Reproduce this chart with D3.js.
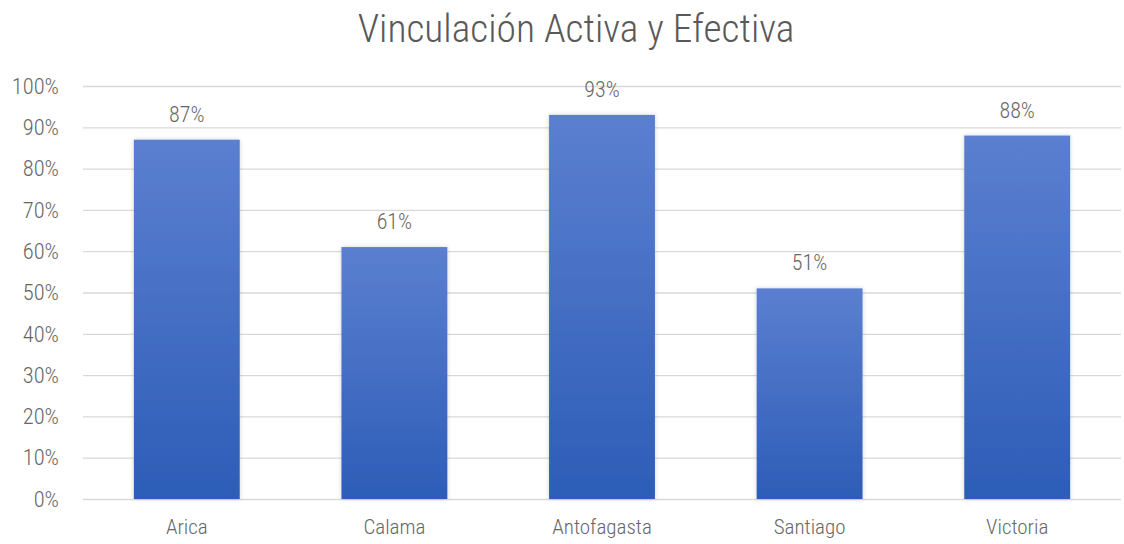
<!DOCTYPE html>
<html>
<head>
<meta charset="utf-8">
<script src="https://cdn.jsdelivr.net/npm/d3@7"></script>
<style>
  body { margin: 0; background: #fff; }
  text { font-family: "Liberation Sans Narrow", "Roboto Condensed", "Arial Narrow", sans-serif; font-weight: 300; }
</style>
</head>
<body>
<svg id="chart" width="1124" height="544"></svg>
<script>
const sedes = ["Arica", "Calama", "Antofagasta", "Santiago", "Victoria"];
const valores = [0.87, 0.61, 0.93, 0.51, 0.88];
const ticks = [0, 0.1, 0.2, 0.3, 0.4, 0.5, 0.6, 0.7, 0.8, 0.9, 1.0];

const svg = d3.select("#chart");
const margin = { left: 83, right: 3, top: 86, bottom: 45 };
const width = 1124, height = 544;

const x = d3.scaleBand()
  .domain(sedes)
  .range([margin.left, width - margin.right])
  .paddingInner(0.49)
  .paddingOuter(0.245);

const y = d3.scaleLinear()
  .domain([0, 1])
  .range([height - margin.bottom, margin.top]);

// gradiente de las barras
const defs = svg.append("defs");
const grad = defs.append("linearGradient")
  .attr("id", "barGrad")
  .attr("x1", 0).attr("y1", 0).attr("x2", 0).attr("y2", 1);
grad.append("stop").attr("offset", "0%").attr("stop-color", "#5b7fd0");
grad.append("stop").attr("offset", "100%").attr("stop-color", "#2d5db7");

const shadow = defs.append("filter").attr("id", "shadow")
  .attr("x", "-10%").attr("y", "-10%").attr("width", "120%").attr("height", "120%");
shadow.append("feDropShadow")
  .attr("dx", 0).attr("dy", 0).attr("stdDeviation", 2)
  .attr("flood-color", "#000").attr("flood-opacity", 0.18);

// título
svg.append("text")
  .attr("x", 576)
  .attr("y", 42)
  .attr("text-anchor", "middle")
  .attr("fill", "#595959")
  .style("font-size", "39.5px")
  .text("Vinculación Activa y Efectiva");

// eje y + líneas de cuadrícula
const yAxis = svg.append("g")
  .attr("transform", `translate(${margin.left},0)`)
  .call(d3.axisLeft(y)
    .tickValues(ticks)
    .tickSize(-(width - margin.left - margin.right))
    .tickPadding(24)
    .tickFormat(d3.format(".0%")));
yAxis.select(".domain").remove();
yAxis.selectAll(".tick line").attr("stroke", "#d9d9d9").attr("stroke-width", 1.3);
yAxis.selectAll(".tick text")
  .attr("fill", "#666")
  .style("font-size", "22.5px");

// barras
svg.append("g")
  .selectAll("rect")
  .data(valores)
  .join("rect")
  .attr("x", (d, i) => x(sedes[i]))
  .attr("y", d => y(d))
  .attr("width", x.bandwidth())
  .attr("height", d => y(0) - y(d))
  .attr("fill", "url(#barGrad)")
  .attr("filter", "url(#shadow)");

// etiquetas de valor
svg.append("g")
  .selectAll("text")
  .data(valores)
  .join("text")
  .attr("x", (d, i) => x(sedes[i]) + x.bandwidth() / 2)
  .attr("y", d => y(d) - 18)
  .attr("text-anchor", "middle")
  .attr("fill", "#666")
  .style("font-size", "22px")
  .text(d => d3.format(".0%")(d));

// eje x
const xAxis = svg.append("g")
  .attr("transform", `translate(0,${y(0)})`)
  .call(d3.axisBottom(x).tickSize(0).tickPadding(20));
xAxis.select(".domain").remove();
xAxis.selectAll(".tick text")
  .attr("fill", "#666")
  .style("font-size", "21px");
</script>
</body>
</html>
